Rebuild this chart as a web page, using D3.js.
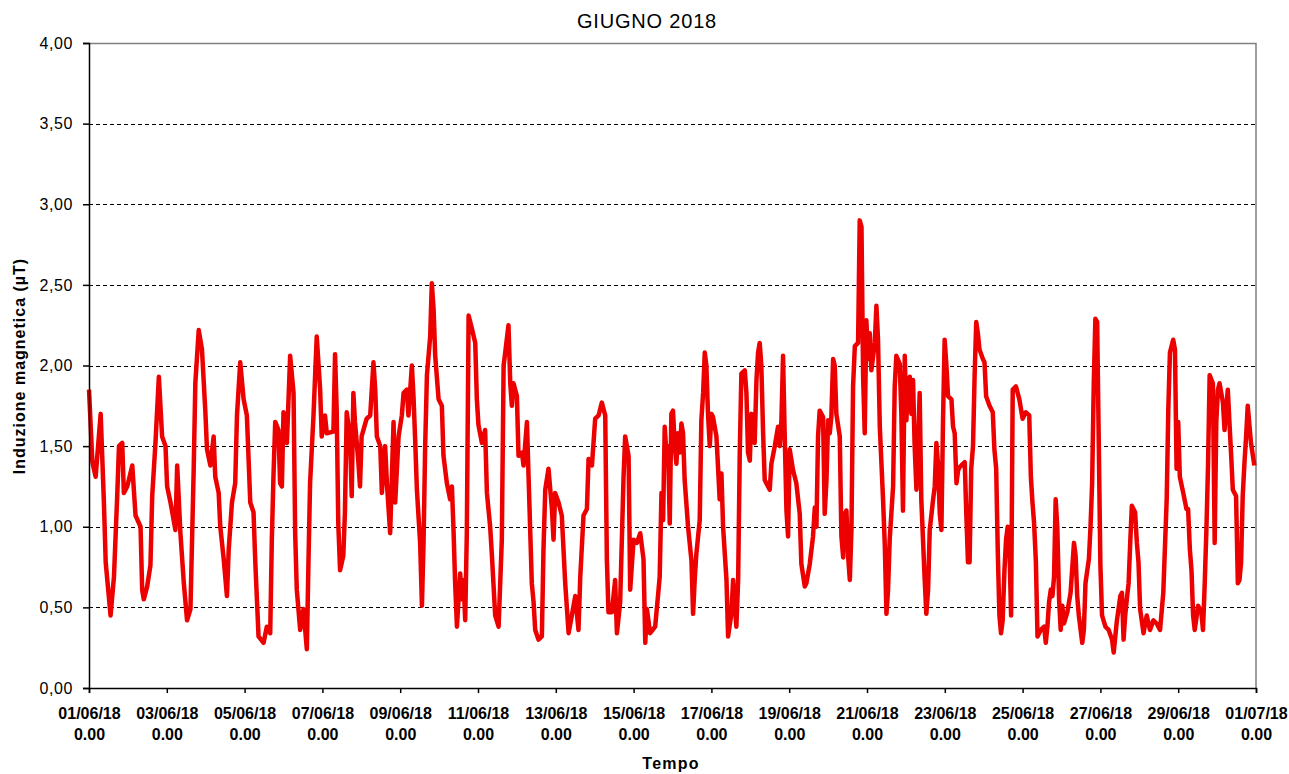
<!DOCTYPE html>
<html>
<head>
<meta charset="utf-8">
<script src="https://cdn.jsdelivr.net/npm/d3@7"></script>
<style>
  body { margin: 0; background: #fff; }
  text { font-family: "Liberation Sans", Arial, sans-serif; fill: #000; }
</style>
</head>
<body>
<script>
const width = 1289,
  height = 774;

const margin = { top: 43, right: 33, bottom: 86, left: 89 };

const titolo = "GIUGNO 2018";
const titoloY = "Induzione magnetica (\u00b5T)";
const titoloX = "Tempo";

// ore dall'inizio del mese (01/06/18 0.00) e valori
const ore = [
  0, 2.1, 4.1, 7.2, 9.2, 10.3, 13.3, 15.4, 17.4, 18.5, 20.5, 21.5, 23.6, 26.7, 28.7, 31.8,
  32.8, 33.8, 35.9, 37.9, 39.0, 41.0, 43.1, 45.1, 47.2, 48.2, 50.3, 53.3, 54.4, 56.4, 58.5,
  60.5, 62.6, 64.6, 65.6, 67.7, 69.7, 71.8, 72.8, 74.9, 76.9, 77.9, 80.0, 81.0, 83.1, 85.1,
  86.2, 88.2, 90.2, 91.3, 93.3, 95.4, 97.4, 99.5, 101.5, 102.6, 104.6, 107.7, 109.7, 111.8,
  112.8, 113.8, 114.9, 116.9, 117.9, 119.0, 120.0, 122.1, 124.1, 126.2, 127.2, 128.2, 130.3,
  132.3, 134.4, 135.4, 136.4, 138.5, 140.5, 142.6, 143.6, 145.6, 146.7, 150.8, 151.8, 152.8,
  153.8, 154.9, 156.9, 157.9, 159.0, 161.0, 162.1, 163.1, 164.1, 166.2, 167.2, 168.2, 171.3,
  173.5, 175.5, 176.6, 177.6, 179.7, 180.7, 182.7, 183.8, 185.8, 187.9, 188.9, 191.0, 193.0,
  194.1, 196.1, 197.1, 199.2, 200.2, 201.3, 202.3, 204.3, 205.4, 206.4, 207.4, 208.5, 210.5,
  211.5, 212.6, 213.6, 215.7, 217.7, 218.7, 220.8, 222.8, 223.9, 224.9, 225.9, 227.0, 228.0,
  229.0, 230.0, 231.1, 232.1, 233.1, 234.2, 236.2, 238.3, 239.3, 240.3, 242.4, 244.4, 245.5,
  247.5, 248.6, 250.6, 252.7, 254.7, 255.8, 256.8, 258.8, 259.9, 260.9, 261.9, 264.0, 265.0,
  267.1, 268.1, 270.2, 271.2, 273.2, 274.3, 275.3, 277.3, 279.4, 280.4, 281.5, 283.5, 285.6,
  286.6, 287.6, 289.7, 291.7, 293.8, 295.9, 297.9, 300.0, 302.0, 303.1, 305.1, 307.2, 308.2,
  310.3, 312.3, 314.4, 316.4, 318.5, 319.5, 320.5, 322.6, 324.6, 325.7, 327.7, 329.8, 330.8,
  332.9, 333.9, 336.0, 338.0, 340.1, 342.1, 343.2, 344.2, 346.2, 349.3, 351.4,
  352.1, 353.2, 354.2, 355.2, 356.2, 357.3, 358.3, 359.3, 360.3, 361.4, 362.4, 363.4, 364.5,
  365.5, 366.5, 367.5, 369.6, 371.7, 372.7, 373.7, 374.7, 376.8, 377.8, 378.9, 379.9, 380.9,
  381.9, 383.0, 384.0, 385.0, 387.1, 388.1, 389.1, 390.2, 391.2, 393.3, 394.3, 396.3, 397.4,
  399.4, 400.5, 401.5, 402.5, 404.6, 405.6, 406.6, 407.7, 408.7, 409.7, 410.7, 411.8, 412.8,
  413.8, 414.8, 415.9, 416.9, 417.9, 420.0, 421.0, 423.1, 425.1, 426.2, 427.2, 428.2, 429.2,
  430.3, 431.3, 432.3, 434.4, 436.4, 438.5, 439.5, 441.6, 442.6, 444.7, 446.7, 447.8, 448.8,
  449.8, 450.8, 452.9, 453.9, 455.0, 456.0, 457.0, 458.0, 459.1, 460.1, 461.1, 463.2, 464.2,
  465.3, 466.3, 467.3, 468.4, 469.4, 470.4, 471.4, 472.5, 474.5, 475.5, 476.6, 477.6, 478.6,
  479.6, 480.7, 481.7, 482.7, 484.8, 485.8, 486.8, 487.9, 489.9, 491.0, 492.0, 493.0, 494.0,
  496.1, 497.1, 498.1, 500.2, 501.2, 502.2, 503.3, 504.3, 505.3, 506.4, 507.4, 508.4, 509.4,
  510.5, 511.5, 512.5, 513.5, 515.6, 516.6, 517.7, 518.7, 520.8, 521.8, 522.8, 523.8, 524.9,
  525.9, 526.9, 527.9, 529.0, 530.0, 532.1, 533.1, 534.1, 535.2, 536.2, 537.2,
  538.2, 540.3, 541.3, 542.3, 543.3, 544.3, 545.4, 546.4, 547.4, 548.4, 549.4, 551.5, 552.5,
  553.5, 555.6, 557.6, 558.6, 559.7, 560.7, 561.7, 562.7, 563.7, 564.8, 565.8, 566.8, 567.8,
  568.9, 569.9, 571.9, 574.0, 576.0, 578.0, 580.1, 581.1, 582.1, 583.1, 584.2, 585.2, 587.2,
  589.3, 590.3, 591.3, 592.3, 593.4, 594.4, 595.4, 596.4, 597.4, 598.5, 599.5, 600.5, 601.5,
  603.6, 605.6, 607.7, 608.7, 609.7, 610.7, 612.8, 613.8, 614.8, 616.9, 617.9, 618.9, 619.9,
  620.9, 622.0, 623.0, 624.0, 625.0, 627.1, 629.1, 631.2, 632.2, 634.2, 635.2, 636.3, 637.3,
  638.3, 639.3, 640.3, 641.4, 642.4, 643.4, 645.4, 646.5, 647.5, 648.5, 650.6, 652.6, 654.6,
  656.7, 658.7, 660.8, 662.8, 664.9, 665.9, 666.9, 668.9, 670.0, 671.0, 672.0, 673.0, 675.1,
  677.1, 678.1, 679.2, 680.2, 681.2, 682.2, 684.3, 686.3, 687.3, 688.3, 689.4, 690.4, 691.4,
  693.4, 694.5, 695.5, 696.5, 697.5, 699.6, 700.6, 702.6, 703.7, 704.7, 705.7, 707.7, 708.8,
  709.8, 710.8, 711.8, 712.9, 713.9, 714.9, 716.9, 719.0
];

const induzione = [
  1.85, 1.40, 1.31, 1.70, 1.15, 0.78, 0.45, 0.69, 1.19, 1.50, 1.52, 1.21, 1.25, 1.38, 1.07, 1.00,
  0.61, 0.55, 0.63, 0.76, 1.19, 1.52, 1.93, 1.56, 1.50, 1.25, 1.15, 0.98, 1.38, 0.96, 0.65,
  0.42, 0.49, 1.36, 1.89, 2.22, 2.10, 1.71, 1.48, 1.38, 1.56, 1.31, 1.21, 1.00, 0.80, 0.57,
  0.86, 1.15, 1.27, 1.69, 2.02, 1.79, 1.69, 1.15, 1.09, 0.78, 0.32, 0.28, 0.38, 0.34,
  0.92, 1.31, 1.65, 1.60, 1.27, 1.25, 1.71, 1.52, 2.06, 1.83, 0.96, 0.61, 0.36,
  0.49, 0.24, 0.78, 1.27, 1.69, 2.18, 1.85, 1.56, 1.69, 1.58, 1.59, 2.07, 1.73,
  1.02, 0.73, 0.82, 1.09, 1.71, 1.56, 1.19, 1.83, 1.65, 1.40, 1.25, 1.56, 1.67,
  1.69, 2.02, 1.85, 1.56, 1.50, 1.21, 1.50, 1.27, 0.96, 1.65, 1.15, 1.56, 1.69,
  1.83, 1.85, 1.69, 2.00, 1.81, 1.52, 1.23, 0.90, 0.51, 0.90, 1.50, 1.94, 2.18,
  2.51, 2.35, 2.06, 1.79, 1.75, 1.44, 1.27, 1.17, 1.25, 0.98, 0.65, 0.38, 0.55,
  0.71, 0.55, 0.67, 0.42, 0.96, 2.31, 2.23, 2.14, 1.79, 1.63, 1.52, 1.60, 1.21,
  1.00, 0.82, 0.45, 0.38, 0.92, 2.00, 2.08, 2.25, 1.89, 1.75, 1.89, 1.81, 1.44,
  1.46, 1.38, 1.65, 1.31, 0.65, 0.53, 0.36, 0.30, 0.32, 0.86, 1.23, 1.36, 1.11,
  0.92, 1.21, 1.15, 1.07, 0.65, 0.34, 0.45, 0.57, 0.36, 0.69, 1.07, 1.11, 1.42,
  1.38, 1.67, 1.69, 1.77, 1.69, 0.80, 0.47, 0.47, 0.67, 0.34, 0.53, 1.31, 1.56,
  1.44, 0.61, 0.92, 0.90, 0.96, 0.80, 0.28, 0.49, 0.34, 0.38, 0.61,
  0.69, 1.21, 1.04, 1.62, 1.46, 1.50, 1.02, 1.70, 1.72, 1.50, 1.39, 1.58, 1.46,
  1.64, 1.58, 1.29, 1.00, 0.79, 0.46, 0.67, 0.83, 1.04, 1.66, 1.83, 2.08, 2.00,
  1.70, 1.50, 1.70, 1.68, 1.56, 1.37, 1.17, 1.33, 1.00, 0.67, 0.32, 0.46, 0.67,
  0.38, 0.67, 1.46, 1.95, 1.97, 1.83, 1.46, 1.41, 1.70, 1.60, 1.52, 1.91, 2.08,
  2.14, 2.00, 1.58, 1.29, 1.27, 1.23, 1.39, 1.50, 1.62, 1.50, 1.66, 2.06, 1.58,
  1.10, 0.94, 1.48, 1.35, 1.27, 1.08, 0.77, 0.63, 0.65, 0.77, 0.94, 1.12, 1.00,
  1.56, 1.72, 1.68, 1.08, 1.29, 1.66, 1.58, 1.68, 2.04, 2.00, 1.70, 1.56, 0.94,
  0.81, 1.08, 1.10, 0.81, 0.67, 0.98, 1.87, 2.12, 2.14, 2.90, 2.86, 1.93, 1.58,
  2.28, 2.04, 2.20, 1.97, 2.14, 2.37, 2.16, 1.62, 1.17, 0.88, 0.46, 0.61, 0.92,
  1.25, 1.87, 2.06, 2.01, 1.70, 1.10, 2.06, 1.66, 1.89, 1.93, 1.70, 1.91, 1.50,
  1.23, 1.50, 1.83, 1.17, 0.67, 0.46, 0.61, 0.98, 1.17, 1.25, 1.52, 1.39, 1.08,
  0.98, 1.66, 2.16, 2.00, 1.81, 1.79, 1.62, 1.58, 1.27, 1.35, 1.37,
  1.38, 1.40, 1.07, 0.78, 0.78, 1.36, 1.50, 1.94, 2.27, 2.20, 2.10, 2.04, 2.02,
  1.81, 1.75, 1.71, 1.48, 1.36, 0.84, 0.45, 0.34, 0.42, 0.73, 0.92, 1.00, 0.90,
  0.45, 1.85, 1.87, 1.79, 1.67, 1.71, 1.69, 1.31, 1.15, 1.02, 0.78, 0.32, 0.36,
  0.38, 0.28, 0.38, 0.53, 0.61, 0.57, 0.69, 1.17, 1.00, 0.55, 0.36, 0.51, 0.40,
  0.47, 0.59, 0.90, 0.82, 0.57, 0.45, 0.28, 0.36, 0.65, 0.80, 1.00, 1.27, 1.89,
  2.29, 2.27, 1.52, 0.76, 0.45, 0.38, 0.36, 0.30, 0.22, 0.42, 0.49, 0.57, 0.59,
  0.30, 0.45, 0.55, 0.65, 0.90, 1.13, 1.09, 0.90, 0.78, 0.49, 0.34, 0.45, 0.36,
  0.42, 0.40, 0.36, 0.59, 1.17, 1.73, 2.08, 2.16, 2.10, 1.36, 1.65, 1.31, 1.21,
  1.11, 1.11, 0.86, 0.73, 0.45, 0.36, 0.51, 0.47, 0.36, 0.63, 0.98, 1.38, 1.94,
  1.89, 0.90, 1.65, 1.85, 1.89, 1.77, 1.60, 1.85, 1.63, 1.44, 1.23, 1.19, 0.65,
  0.67, 0.78, 1.19, 1.40, 1.56, 1.75, 1.52, 1.38
];

const yTicks = [0, 0.5, 1, 1.5, 2, 2.5, 3, 3.5, 4];
const inizio = new Date(2018, 5, 1);
const fine = new Date(2018, 6, 1);

const dati = ore.map((h, i) => ({
  t: new Date(+inizio + h * 3600 * 1000),
  v: induzione[i]
}));

const it = d3.formatLocale({
  decimal: ",",
  thousands: ".",
  grouping: [3],
  currency: ["", " \u20ac"]
});
const fmtY = it.format(".2f");
const fmtData = d3.timeFormat("%d/%m/%y");

const svg = d3
  .select("body")
  .append("svg")
  .attr("width", width)
  .attr("height", height);

const x = d3
  .scaleTime()
  .domain([inizio, fine])
  .range([margin.left, width - margin.right]);

const y = d3
  .scaleLinear()
  .domain([0, 4])
  .range([height - margin.bottom, margin.top]);

// griglia tratteggiata
svg
  .append("g")
  .selectAll("line")
  .data(yTicks.filter(d => d > 0 && d < 4))
  .join("line")
  .attr("x1", margin.left)
  .attr("x2", width - margin.right)
  .attr("y1", d => Math.round(y(d)) + 0.5)
  .attr("y2", d => Math.round(y(d)) + 0.5)
  .attr("stroke", "#000")
  .attr("stroke-width", 1)
  .attr("stroke-dasharray", "4,3");

// bordo superiore e destro
svg
  .append("path")
  .attr(
    "d",
    `M${margin.left},${margin.top + 0.5}H${width - margin.right}V${height - margin.bottom}`
  )
  .attr("fill", "none")
  .attr("stroke", "#808080")
  .attr("stroke-width", 1.5);

// serie
const line = d3
  .line()
  .x(d => x(d.t))
  .y(d => y(d.v));

svg
  .append("path")
  .datum(dati)
  .attr("d", line)
  .attr("fill", "none")
  .attr("stroke", "#ec0000")
  .attr("stroke-width", 4.5)
  .attr("stroke-linejoin", "round");

// asse y
const yAxis = svg
  .append("g")
  .attr("transform", `translate(${margin.left},0)`)
  .call(
    d3
      .axisLeft(y)
      .tickValues(yTicks)
      .tickFormat(fmtY)
      .tickSize(6)
      .tickPadding(10)
  );
yAxis.select(".domain").attr("stroke", "#000").attr("stroke-width", 1.5);
yAxis.selectAll(".tick line").attr("stroke", "#000").attr("stroke-width", 1.5);
yAxis
  .selectAll(".tick text")
  .style("font-family", '"Liberation Sans", Arial, sans-serif')
  .style("font-size", "16px")
  .style("letter-spacing", "0.6px")
  .attr("fill", "#222");

// asse x
const xAxis = svg
  .append("g")
  .attr("transform", `translate(0,${height - margin.bottom})`)
  .call(
    d3
      .axisBottom(x)
      .ticks(d3.timeDay.every(2))
      .tickFormat("")
      .tickSize(5)
  );
xAxis.select(".domain").attr("stroke", "#000").attr("stroke-width", 1.5);
xAxis.selectAll(".tick line").attr("stroke", "#000").attr("stroke-width", 1.5);

const tickText = xAxis
  .selectAll(".tick text")
  .attr("y", 0)
  .attr("dy", null)
  .style("font-family", '"Liberation Sans", Arial, sans-serif')
  .style("font-size", "16px")
  .style("font-weight", "bold");
tickText.each(function(d) {
  const t = d3.select(this);
  t.append("tspan").attr("x", 0).attr("y", 31).text(fmtData(d));
  t.append("tspan").attr("x", 0).attr("y", 52).text("0.00");
});

// titoli
svg
  .append("text")
  .attr("x", 647)
  .attr("y", 28)
  .attr("text-anchor", "middle")
  .style("font-size", "20px")
  .style("letter-spacing", "0.8px")
  .text(titolo);

svg
  .append("text")
  .attr("x", 671)
  .attr("y", 769)
  .attr("text-anchor", "middle")
  .style("font-size", "16px")
  .style("font-weight", "bold")
  .style("letter-spacing", "1.2px")
  .text(titoloX);

svg
  .append("text")
  .attr("transform", "translate(25,366) rotate(-90)")
  .attr("text-anchor", "middle")
  .style("font-size", "16px")
  .style("font-weight", "bold")
  .style("letter-spacing", "1px")
  .text(titoloY);
</script>
</body>
</html>
